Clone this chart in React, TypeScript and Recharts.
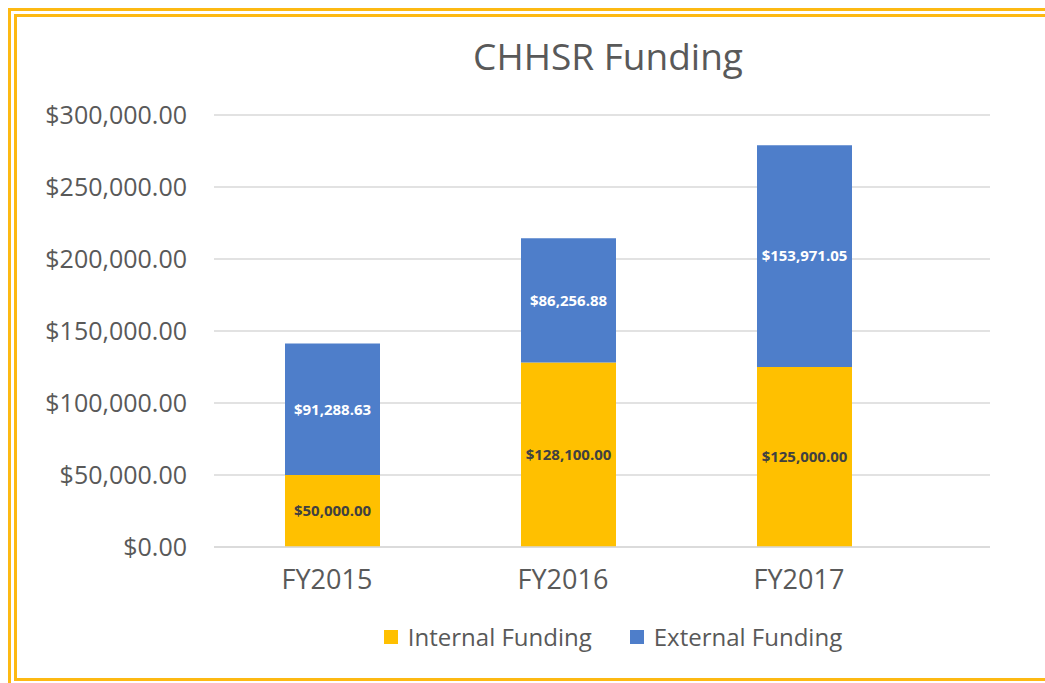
import React from "react";
import { BarChart, Bar, XAxis, YAxis, CartesianGrid, LabelList } from "recharts";

const years = ["FY2015", "FY2016", "FY2017"];
const internalFunding = [50000, 128100, 125000];
const externalFunding = [91288.63, 86256.88, 153971.05];
const yTicks = [0, 50000, 100000, 150000, 200000, 250000, 300000];
const seriesNames = ["Internal Funding", "External Funding"];
const seriesColors = ["#FFC000", "#4E7ECA"];

const data = years.map((year, i) => ({
    year,
    internal: internalFunding[i],
    external: externalFunding[i],
}));

const font = "'Open Sans', sans-serif";
const textColor = "#595959";
const frameColor = "#FDB913";

const money = (v: number) =>
    "$" + v.toLocaleString("en-US", { minimumFractionDigits: 2, maximumFractionDigits: 2 });

// frame lines: outer and inner, cut off at right edge of the picture
const frameLines: React.CSSProperties[] = [
    { left: 8, top: 8, width: 1037, height: 3 },
    { left: 14, top: 14, width: 1031, height: 3 },
    { left: 8, top: 8, width: 3, height: 675 },
    { left: 14, top: 14, width: 3, height: 665 },
    { left: 14, top: 678, width: 1031, height: 3 },
];

const App: React.FC = () => {
    return (
        <div style={{ position: "absolute", left: 0, top: 0, width: 1045, height: 683, overflow: "hidden", background: "#fff" }}>
            {frameLines.map((s, i) => (
                <div key={i} style={{ position: "absolute", background: frameColor, ...s }} />
            ))}
            <div
                style={{
                    position: "absolute",
                    left: 0,
                    width: 1216,
                    top: 31,
                    textAlign: "center",
                    fontFamily: font,
                    fontSize: 37,
                    lineHeight: "50px",
                    color: textColor,
                }}
            >
                CHHSR Funding
            </div>
            <div style={{ position: "absolute", left: 0, top: 0 }}>
                <BarChart width={1045} height={683} data={data} margin={{ top: 115, right: 55, left: 14, bottom: 106 }}>
                    <CartesianGrid vertical={false} stroke="#D9D9D9" strokeWidth={1.5} />
                    <XAxis
                        dataKey="year"
                        axisLine={{ stroke: "#D9D9D9", strokeWidth: 1.5 }}
                        tickLine={false}
                        tickSize={0}
                        tickMargin={23}
                        padding={{ left: 0, right: 68 }}
                        tick={{ fill: textColor, fontSize: 27, fontFamily: font, dx: -5 }}
                    />
                    <YAxis
                        width={200}
                        domain={[0, 300000]}
                        ticks={yTicks}
                        axisLine={false}
                        tickLine={false}
                        tickSize={0}
                        tickMargin={27}
                        tickFormatter={money}
                        tick={{ fill: textColor, fontSize: 25, fontFamily: font }}
                    />
                    <Bar dataKey="internal" stackId="a" fill={seriesColors[0]} barSize={95} isAnimationActive={false}>
                        <LabelList
                            dataKey="internal"
                            position="center"
                            formatter={(v: any) => money(Number(v))}
                            style={{ fill: "#404040", fontSize: 15, fontWeight: 700, fontFamily: font }}
                        />
                    </Bar>
                    <Bar dataKey="external" stackId="a" fill={seriesColors[1]} barSize={95} isAnimationActive={false}>
                        <LabelList
                            dataKey="external"
                            position="center"
                            formatter={(v: any) => money(Number(v))}
                            style={{ fill: "#FFFFFF", fontSize: 15, fontWeight: 700, fontFamily: font }}
                        />
                    </Bar>
                </BarChart>
            </div>
            <div
                style={{
                    position: "absolute",
                    left: 0,
                    width: 1226,
                    top: 620,
                    display: "flex",
                    justifyContent: "center",
                    gap: 38,
                    fontFamily: font,
                    fontSize: 24,
                    lineHeight: "34px",
                    color: textColor,
                }}
            >
                {seriesNames.map((name, i) => (
                    <div key={name} style={{ display: "flex", alignItems: "center" }}>
                        <span style={{ width: 14, height: 14, background: seriesColors[i], marginRight: 10, display: "inline-block" }} />
                        {name}
                    </div>
                ))}
            </div>
        </div>
    );
};

export default App;
